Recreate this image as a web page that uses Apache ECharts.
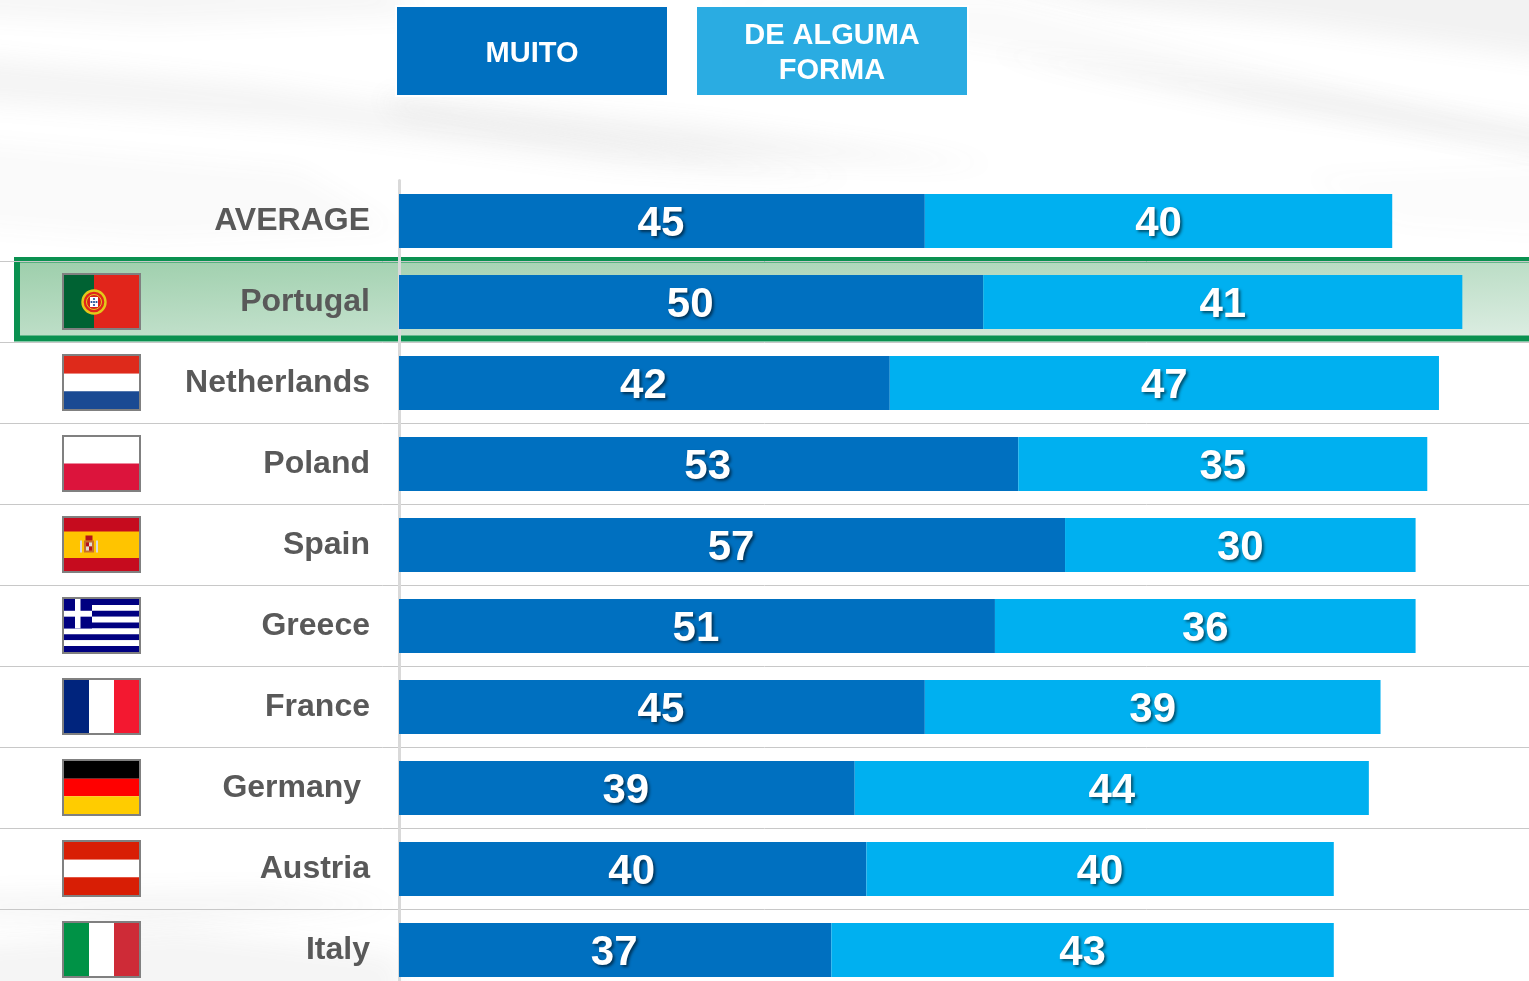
<!DOCTYPE html>
<html><head><meta charset="utf-8">
<style>html,body{margin:0;padding:0;background:#fff;overflow:hidden}#c{width:1529px;height:981px}</style>
<script src="https://cdn.jsdelivr.net/npm/echarts@6/dist/echarts.min.js"></script>
</head><body><div id="c"></div>
<script>
const categories = ['AVERAGE','Portugal','Netherlands','Poland','Spain','Greece','France','Germany ','Austria','Italy'];
const muito = [45,50,42,53,57,51,45,39,40,37];
const deAlgumaForma = [40,41,47,35,30,36,39,44,40,43];
const flagCodes = ['', 'pt','nl','pl','es','gr','fr','de','at','it'];
const highlightedRow = 'Portugal';
const seriesNames = ['MUITO','DE ALGUMA FORMA'];

const DARK='#0070C0', LIGHT='#00B0F0', LEG2='#2AACE2', TXT='#595959', FONT='"Liberation Sans",Arial,sans-serif';
const PX_PER_UNIT=11.685, ZERO_X=399, W=1529;

const hBands={nl:['#DE2A1B','#ffffff','#1A4A93'],pl:['#ffffff','#DC143C'],de:['#000000','#FF0000','#FFCC00'],at:['#D81E05','#ffffff','#D81E05']};
const vBands={fr:['#00247D','#ffffff','#F31830'],it:['#009246','#ffffff','#CE2B37']};

function rect(x,y,w,h,fill){return {type:'rect',shape:{x,y,width:w,height:h},style:{fill}};}
function circle(cx,cy,r,fill,stroke,lw){return {type:'circle',shape:{cx,cy,r},style:{fill,stroke,lineWidth:lw||0}};}

function flagChildren(code,cy){
  const x=64,w=75,h=53,y=cy-h/2,out=[];
  out.push({type:'rect',shape:{x:x-1,y:y-1,width:w+2,height:h+2},style:{fill:'#fff',stroke:'#808080',lineWidth:2}});
  if(hBands[code]){const b=hBands[code];b.forEach((c,i)=>out.push(rect(x,y+i*h/b.length,w,h/b.length,c)));}
  else if(vBands[code]){const b=vBands[code];b.forEach((c,i)=>out.push(rect(x+i*w/b.length,y,w/b.length,h,c)));}
  else if(code==='pt'){
    out.push(rect(x,y,30,h,'#006233'),rect(x+30,y,45,h,'#E1251B'));
    const ex=x+30,ey=cy+0.5;
    out.push(circle(ex,ey,11.5,'#E1251B','#E3C81A',2.4));
    out.push(circle(ex,ey,7.5,'#D9201A','#E3C81A',1));
    out.push(rect(ex-4,ey-5,8,10,'#ffffff'));
    [[0,-3],[0,0],[0,3],[-2.5,0],[2.5,0]].forEach(p=>out.push(circle(ex+p[0],ey+p[1],1.1,'#1A4A93')));
  } else if(code==='es'){
    out.push(rect(x,y,w,h,'#C60B1E'),rect(x,y+13.5,w,26.5,'#FFC400'));
    const ex=x+25,ey=cy;
    out.push(rect(ex-5,ey-4,10,12,'#C8702A'),rect(ex-3.5,ey-9,7,5,'#B5121B'));
    out.push(rect(ex-9,ey-4,2,12,'#D9D9D9'),rect(ex+7,ey-4,2,12,'#D9D9D9'));
    out.push(rect(ex-3,ey-2,3,4,'#B5121B'),rect(ex,ey-2,3,4,'#E0DDD0'),rect(ex-3,ey+2,3,4,'#E0DDD0'),rect(ex,ey+2,3,4,'#B5121B'));
  } else if(code==='gr'){
    const s=h/9,blue='#000080';
    for(let i=0;i<9;i++)out.push(rect(x,y+i*s,w,s,i%2?'#ffffff':blue));
    out.push(rect(x,y,28,5*s,blue),rect(x,y+2*s,28,s,'#ffffff'),rect(x+11,y,5.5,5*s,'#ffffff'));
  }
  return out;
}

const flagSeries={
  type:'custom',name:'flags',z:3,silent:true,clip:false,
  data:flagCodes.map((c,i)=>[0,i]),
  renderItem(params,api){
    const i=api.value(1),code=flagCodes[i];
    if(!code) return null;
    const cy=api.coord([0,i])[1]-0.5;
    return {type:'group',children:flagChildren(code,cy)};
  },
  tooltip:{show:false}
};
const highlightSeries={
  type:'custom',name:'highlight',z:-1,silent:true,clip:false,
  data:[[0,categories.indexOf(highlightedRow)]],
  renderItem(params,api){
    const cy=api.coord([0,api.value(1)])[1];
    return {type:'group',children:[
      rect(14,cy-45,W-14,84.5,'#0A9150'),
      {type:'rect',shape:{x:20,y:cy-39.5,width:W-20,height:73},style:{fill:new echarts.graphic.LinearGradient(0,0,0.0046,2,[{offset:0,color:'#9ECFAC'},{offset:1,color:'#DCEDE2'}])}}
    ]};
  }
};

// soft, offscreen-cast shadow streaks for the paper-like backdrop
const OFF=3000;
function streak(points,a,blur){return {type:'polygon',silent:true,z:-10,shape:{points:points.map(p=>[p[0]-OFF,p[1]])},
  style:{fill:'#000',shadowBlur:blur||24,shadowOffsetX:OFF,shadowColor:'rgba(110,110,110,'+a+')'}};}
const background=[
  streak([[-40,55],[260,85],[560,130],[860,180],[620,165],[300,125],[-40,100]],0.08),
  streak([[-40,-20],[380,-20],[420,15],[150,25],[-40,15]],0.06),
  streak([[380,95],[700,125],[1000,165],[700,155],[400,115]],0.09),
  streak([[940,-30],[1560,-30],[1560,60],[1300,25],[1100,5]],0.09),
  streak([[980,50],[1300,90],[1560,130],[1560,150],[1250,105]],0.09),
  streak([[700,0],[1000,0],[1560,140],[1560,165],[1200,85]],0.03),
  streak([[-40,140],[300,170],[400,230],[150,240],[-40,225]],0.03),
  streak([[1300,175],[1560,165],[1560,235],[1400,225]],0.02),
  streak([[-40,895],[260,890],[400,905],[140,925],[-40,915]],0.07),
  streak([[-40,945],[180,930],[400,955],[400,1010],[-40,1010]],0.07)
];

const legendBox=(fill,pad)=>({backgroundColor:fill,borderColor:'#fff',borderWidth:2,padding:pad,
    color:'#fff',fontWeight:'bold',fontSize:29,fontFamily:FONT,
    rich:{t:{width:270,height:35,lineHeight:35,align:'center',verticalAlign:'middle',color:'#fff',fontWeight:'bold',fontSize:29,fontFamily:FONT},
          s:{width:270,height:70,lineHeight:70,align:'center',verticalAlign:'middle',color:'#fff',fontWeight:'bold',fontSize:29,fontFamily:FONT}}});
const baseLabel={show:true,position:'inside',color:'#fff',fontFamily:FONT,fontWeight:'bold',fontSize:42,
  textShadowColor:'rgba(0,0,0,0.55)',textShadowBlur:3,textShadowOffsetX:2,textShadowOffsetY:2,textBorderWidth:0};

const chart=echarts.init(document.getElementById('c'),null,{renderer:'canvas'});
chart.setOption({
  animation:false,
  backgroundColor:'#ffffff',
  graphic:{elements:background},
  legend:{show:true,left:392,top:5,padding:0,itemWidth:0,itemHeight:0,itemGap:23,selectedMode:false,orient:'horizontal',
    icon:'rect',
    formatter:n=>n==='DE ALGUMA FORMA'?'{t|DE ALGUMA}\n{t|FORMA}':'{s|'+n+'}',
    data:[{name:seriesNames[0],textStyle:legendBox(DARK,[12,0,6,0])},{name:seriesNames[1],textStyle:legendBox(LEG2,[11,0,7,0])}]},
  grid:{left:0,top:180.5,width:W,height:810,containLabel:false,outerBoundsMode:'none'},
  xAxis:{type:'value',show:false,min:-ZERO_X/PX_PER_UNIT,max:(W-ZERO_X)/PX_PER_UNIT,splitLine:{show:false}},
  yAxis:{type:'category',inverse:true,data:categories,
    axisTick:{show:false},
    axisLine:{show:true,onZero:true,lineStyle:{color:'#D9D9D9',width:3}},
    axisLabel:{margin:-370,padding:[6,0,0,0],color:TXT,fontFamily:FONT,fontWeight:'bold',fontSize:32,align:'right'},
    splitLine:{show:true,showMinLine:false,showMaxLine:false,lineStyle:{color:'#C8C8C8',width:1}}},
  series:[
    highlightSeries,
    {type:'bar',name:seriesNames[0],stack:'a',barWidth:54,data:muito,itemStyle:{color:DARK},label:Object.assign({offset:[-1,3]},baseLabel),z:2},
    {type:'bar',name:seriesNames[1],stack:'a',barWidth:54,data:deAlgumaForma,itemStyle:{color:LIGHT},label:Object.assign({offset:[0,3]},baseLabel),z:2},
    flagSeries
  ]
});
</script></body></html>
